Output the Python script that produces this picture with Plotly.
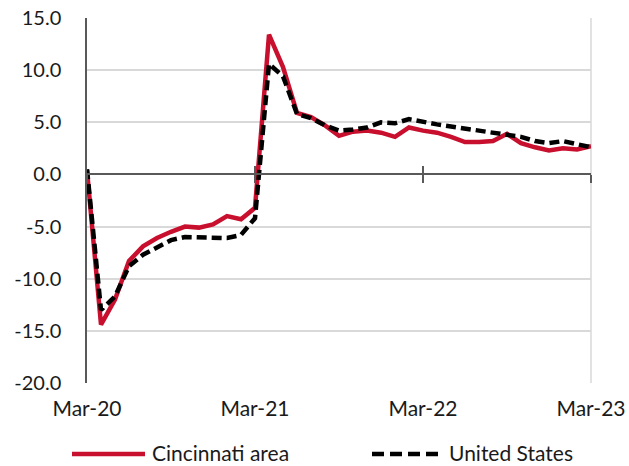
import plotly.graph_objects as go

months = ["Mar-20", "Apr-20", "May-20", "Jun-20", "Jul-20", "Aug-20", "Sep-20", "Oct-20", "Nov-20", "Dec-20",
          "Jan-21", "Feb-21", "Mar-21", "Apr-21", "May-21", "Jun-21", "Jul-21", "Aug-21", "Sep-21", "Oct-21",
          "Nov-21", "Dec-21", "Jan-22", "Feb-22", "Mar-22", "Apr-22", "May-22", "Jun-22", "Jul-22", "Aug-22",
          "Sep-22", "Oct-22", "Nov-22", "Dec-22", "Jan-23", "Feb-23", "Mar-23"]

cincinnati = [0.4, -14.4, -12.0, -8.3, -6.9, -6.1, -5.5, -5.0, -5.1, -4.8,
              -4.0, -4.3, -3.2, 13.4, 10.3, 5.9, 5.5, 4.7, 3.7, 4.1,
              4.2, 4.0, 3.6, 4.5, 4.2, 4.0, 3.6, 3.1, 3.1, 3.2,
              3.9, 3.0, 2.6, 2.3, 2.5, 2.4, 2.7]

united_states = [0.5, -13.0, -11.7, -8.8, -7.7, -7.0, -6.3, -6.0, -6.0, -6.0,
                 -6.1, -5.8, -4.2, 10.6, 9.4, 5.8, 5.4, 4.7, 4.2, 4.3,
                 4.5, 5.0, 4.9, 5.3, 5.0, 4.8, 4.6, 4.4, 4.3, 4.1,
                 3.9, 3.6, 3.2, 3.0, 3.2, 2.9, 2.6]

series_names = ["Cincinnati area", "United States"]
tick_labels = ["Mar-20", "Mar-21", "Mar-22", "Mar-23"]
y_ticks = [-20, -15, -10, -5, 0, 5, 10, 15]
y_tick_text = ["-20.0", "-15.0", "-10.0", "-5.0", "0.0", "5.0", "10.0", "15.0"]

RED = "#C8102E"
BLACK = "#000000"
FONT = "Lato"
TXT = "#1a1a1a"

x_idx = list(range(len(months)))
tick_pos = [months.index(t) for t in tick_labels]

fig = go.Figure()
fig.add_trace(go.Scatter(x=x_idx, y=cincinnati, mode="lines", name=series_names[0],
                         line=dict(color=RED, width=4.5), showlegend=False))
fig.add_trace(go.Scatter(x=x_idx, y=united_states, mode="lines", name=series_names[1],
                         line=dict(color=BLACK, width=4.5, dash="10px,5px"), showlegend=False))

fig.update_layout(
    width=629, height=466,
    margin=dict(l=87, r=38, t=18, b=83, autoexpand=False),
    paper_bgcolor="white", plot_bgcolor="white",
    font=dict(family=FONT, size=20, color=TXT),
    xaxis=dict(range=[0, len(months) - 1], tickmode="array", tickvals=tick_pos, ticktext=tick_labels,
               showgrid=False, zeroline=False, showline=False, ticks="", ticklabelstandoff=11,
               automargin=False, tickfont=dict(family=FONT, size=21, color=TXT)),
    xaxis2=dict(range=[0, len(months) - 1], overlaying="x", anchor="free", position=20 / 35,
                tickmode="array", tickvals=tick_pos, showticklabels=False, automargin=False,
                showgrid=False, zeroline=False, showline=True, linecolor="#595959", linewidth=1.5,
                ticks="outside", ticklen=8, tickwidth=1.5, tickcolor="#595959"),
    xaxis3=dict(range=[0, len(months) - 1], overlaying="x", anchor="free", position=20 / 35,
                tickmode="array", tickvals=tick_pos, showticklabels=False, automargin=False,
                showgrid=False, zeroline=False, showline=False,
                ticks="inside", ticklen=8, tickwidth=1.5, tickcolor="#595959"),
    yaxis=dict(range=[-20, 15], tickmode="array", tickvals=y_ticks, ticktext=y_tick_text,
               showgrid=True, gridcolor="#d9d9d9", gridwidth=1.5, zeroline=False, automargin=False,
               showline=True, linecolor="#595959", linewidth=1.5, ticks="", ticklabelstandoff=20,
               tickfont=dict(family=FONT, size=20, color=TXT)),
)

# dummy traces to activate overlay axes
fig.add_trace(go.Scatter(x=[], y=[], xaxis="x2", showlegend=False))
fig.add_trace(go.Scatter(x=[], y=[], xaxis="x3", showlegend=False))

# right border of plot area
fig.add_shape(type="line", xref="paper", yref="paper", x0=1, x1=1, y0=0, y1=1,
              line=dict(color="#d9d9d9", width=1.5), layer="below")

# custom legend
leg_y = (383 - 454) / 365
txt_y = (383 - 452) / 365
fig.add_shape(type="line", xref="paper", yref="paper", x0=(72 - 87) / 504, x1=(145 - 87) / 504,
              y0=leg_y, y1=leg_y, line=dict(color=RED, width=4.5))
fig.add_annotation(xref="paper", yref="paper", x=(150 - 87) / 504, y=txt_y, text=series_names[0],
                   showarrow=False, xanchor="left", yanchor="middle", font=dict(family=FONT, size=21, color=TXT))
fig.add_shape(type="line", xref="paper", yref="paper", x0=(372 - 87) / 504, x1=(441 - 87) / 504,
              y0=leg_y, y1=leg_y, line=dict(color=BLACK, width=4.5, dash="12px,6px"))
fig.add_annotation(xref="paper", yref="paper", x=(447 - 87) / 504, y=txt_y, text=series_names[1],
                   showarrow=False, xanchor="left", yanchor="middle", font=dict(family=FONT, size=21, color=TXT))

fig.write_html("out.html", config={"displayModeBar": False},
               post_script="document.body.style.margin='0px';document.body.style.overflow='hidden';")
